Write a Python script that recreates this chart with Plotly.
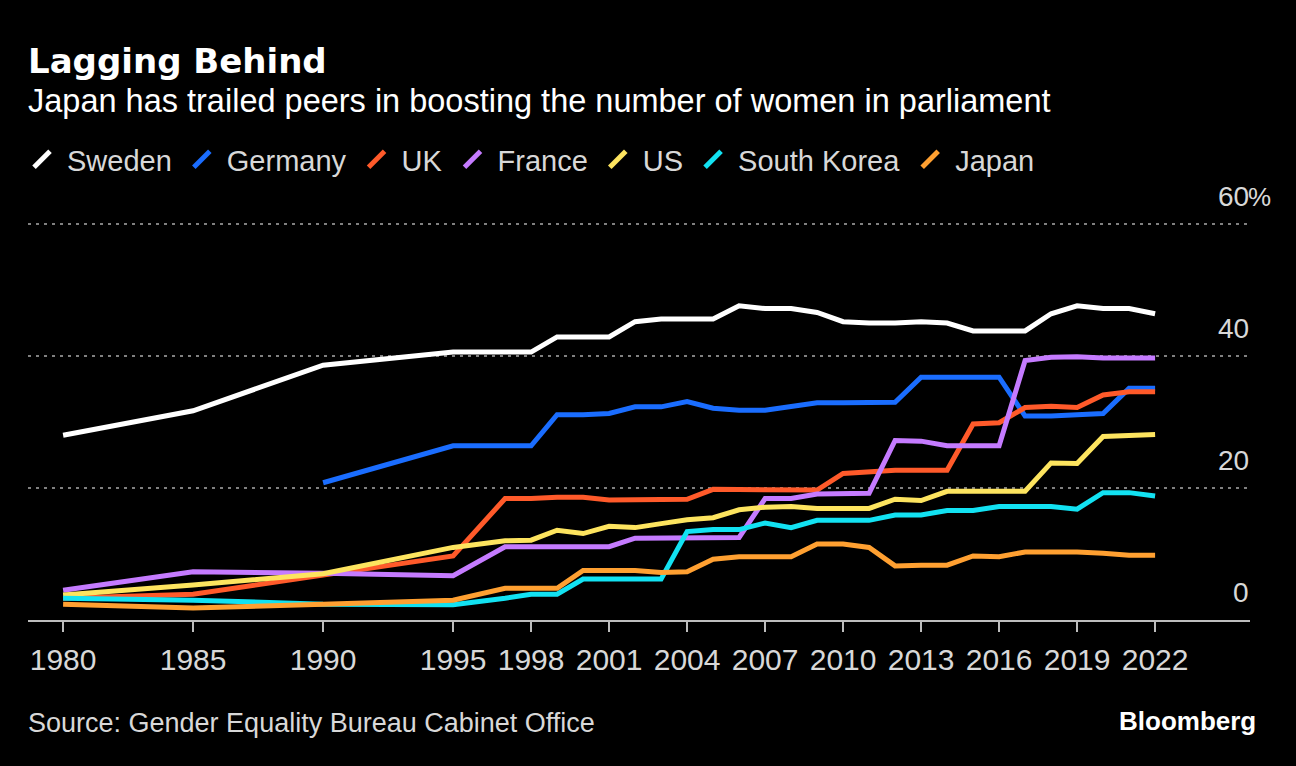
import plotly.graph_objects as go

years = [1980, 1985, 1990, 1995] + list(range(1997, 2023))
years_germany = [1990, 1995] + list(range(1997, 2023))

sweden = [28.0, 31.7, 38.6, 40.6, 40.6, 40.6, 42.9, 42.9, 42.9, 45.2, 45.6, 45.6, 45.6, 47.6, 47.2,
          47.2, 46.6, 45.2, 45.0, 45.0, 45.2, 45.0, 43.8, 43.8, 43.8, 46.4, 47.6, 47.2, 47.2, 46.4]
germany = [20.8, 26.4, 26.4, 26.4, 31.1, 31.1, 31.3, 32.3, 32.3, 33.1, 32.1, 31.8, 31.8, 32.4,
           32.9, 32.9, 33.0, 33.0, 36.8, 36.8, 36.8, 36.8, 30.9, 30.9, 31.1, 31.3, 35.1, 35.1]
uk = [3.3, 3.9, 6.8, 9.7, 18.4, 18.4, 18.6, 18.6, 18.2, 18.2, 18.2, 18.3, 19.8, 19.8, 19.7,
      19.7, 19.7, 22.2, 22.5, 22.7, 22.7, 22.7, 29.7, 29.9, 32.2, 32.4, 32.2, 34.1, 34.6, 34.6]
france = [4.5, 7.3, 7.1, 6.7, 11.1, 11.1, 11.1, 11.1, 11.1, 12.4, 12.4, 12.5, 12.5, 12.5, 18.4,
          18.4, 19.1, 19.2, 19.2, 27.2, 27.1, 26.4, 26.4, 26.4, 39.3, 39.8, 39.9, 39.7, 39.7, 39.7]
us = [3.8, 5.3, 7.0, 11.0, 12.0, 12.1, 13.6, 13.1, 14.2, 14.0, 14.6, 15.2, 15.5, 16.7, 17.1,
      17.2, 16.9, 16.9, 16.9, 18.3, 18.1, 19.5, 19.5, 19.4, 19.5, 23.8, 23.7, 27.8, 27.9, 28.1]
south_korea = [3.3, 3.0, 2.4, 2.3, 3.3, 3.9, 3.9, 6.2, 6.2, 6.2, 6.2, 13.4, 13.7, 13.7, 14.7,
               14.0, 15.1, 15.1, 15.1, 15.9, 15.9, 16.6, 16.6, 17.2, 17.2, 17.2, 16.8, 19.3, 19.3, 18.8]
japan = [2.4, 1.8, 2.4, 3.0, 4.8, 4.8, 4.8, 7.5, 7.5, 7.5, 7.2, 7.3, 9.2, 9.6, 9.6,
         9.6, 11.5, 11.5, 11.0, 8.2, 8.3, 8.3, 9.7, 9.6, 10.3, 10.3, 10.3, 10.1, 9.8, 9.8]

x_tick_years = [1980, 1985, 1990, 1995, 1998, 2001, 2004, 2007, 2010, 2013, 2016, 2019, 2022]
y_tick_vals = [0, 20, 40, 60]
y_tick_text = ["0", "20", "40", "60"]
y_unit = "%"

series = [
    ("Sweden", years, sweden, "#ffffff"),
    ("Germany", years_germany, germany, "#1a6dff"),
    ("UK", years, uk, "#ff5a2a"),
    ("France", years, france, "#c57bff"),
    ("US", years, us, "#fde45f"),
    ("South Korea", years, south_korea, "#12e2f2"),
    ("Japan", years, japan, "#ffa031"),
]

TEXT_FONT = "Liberation Sans, Arial, sans-serif"
W, H = 1296, 766
L, R, T, B = 28, 46, 200, 146
PW, PH = W - L - R, H - T - B


def px_x(px):
    return (px - L) / PW


def px_y(py):
    return (H - B - py) / PH


fig = go.Figure()
for name, xs, ys, color in series:
    fig.add_trace(go.Scatter(
        x=xs, y=ys, mode="lines", name=name, showlegend=False,
        line=dict(color=color, width=5), hoverinfo="x+y+name",
    ))
# legend proxies (slanted line symbol)
for name, xs, ys, color in series:
    fig.add_trace(go.Scatter(
        x=[None], y=[None], mode="markers", name=name, showlegend=True,
        marker=dict(symbol="line-ne", size=20, line=dict(color=color, width=5)),
    ))

# y tick labels sitting above the gridlines, right-aligned on the number
for v, t in zip(y_tick_vals, y_tick_text):
    fig.add_annotation(
        x=1, xref="paper", xanchor="right", y=v, yref="y", yanchor="bottom",
        yshift=11, text=t, showarrow=False, borderpad=0,
        font=dict(family=TEXT_FONT, size=28, color="#d8d8d8"),
    )
fig.add_annotation(
    x=1, xref="paper", xanchor="left", y=y_tick_vals[-1], yref="y", yanchor="bottom",
    yshift=11, xshift=-3, text=y_unit, showarrow=False, borderpad=0,
    font=dict(family=TEXT_FONT, size=26, color="#d8d8d8"),
)

# title & subtitle
fig.add_annotation(
    text="<b>Lagging Behind</b>", xref="paper", x=px_x(26), xanchor="left",
    yref="paper", y=px_y(61), yanchor="middle", showarrow=False,
    font=dict(family="DejaVu Sans", size=34, color="#ffffff"),
)
fig.add_annotation(
    text="Japan has trailed peers in boosting the number of women in parliament",
    xref="paper", x=px_x(26), xanchor="left",
    yref="paper", y=px_y(101), yanchor="middle", showarrow=False,
    font=dict(family=TEXT_FONT, size=32.5, color="#ffffff"),
)

# footer
fig.add_annotation(
    text="Source: Gender Equality Bureau Cabinet Office",
    xref="paper", x=px_x(26), xanchor="left",
    yref="paper", y=px_y(723), yanchor="middle",
    showarrow=False, font=dict(family=TEXT_FONT, size=27, color="#d8d8d8"),
)
fig.add_annotation(
    text="<b>Bloomberg</b>",
    xref="paper", x=px_x(1258), xanchor="right",
    yref="paper", y=px_y(721), yanchor="middle",
    showarrow=False, font=dict(family=TEXT_FONT, size=26, color="#ffffff"),
)

fig.update_layout(
    width=W, height=H,
    paper_bgcolor="#000000", plot_bgcolor="#000000",
    margin=dict(l=L, r=R, t=T, b=B),
    showlegend=True,
    legend=dict(
        orientation="h", xref="container", yref="container",
        x=17 / W, xanchor="left", y=1 - 134 / H, yanchor="top",
        font=dict(family=TEXT_FONT, size=29, color="#d8d8d8"),
        bgcolor="rgba(0,0,0,0)", itemwidth=40,
    ),
    xaxis=dict(
        range=[1978.65, 2025.65], tickmode="array", tickvals=x_tick_years,
        ticktext=[str(y) for y in x_tick_years],
        showgrid=False, zeroline=False, showline=True, linecolor="#bdbdbd", linewidth=2,
        ticks="outside", ticklen=10, tickwidth=1.5, tickcolor="#bdbdbd",
        ticklabelstandoff=2,
        tickfont=dict(family=TEXT_FONT, size=30, color="#d8d8d8"),
        fixedrange=True,
    ),
    yaxis=dict(
        range=[0, 63.64], tickmode="array", tickvals=[20, 40, 60], showticklabels=False,
        showgrid=True, gridcolor="#808080", gridwidth=1.5, griddash="3px,5px",
        zeroline=False, showline=False, fixedrange=True,
    ),
)

fig.write_html(
    "out.html",
    config={"displayModeBar": False},
    post_script="document.body.style.margin='0';document.body.style.background='#000';",
)
